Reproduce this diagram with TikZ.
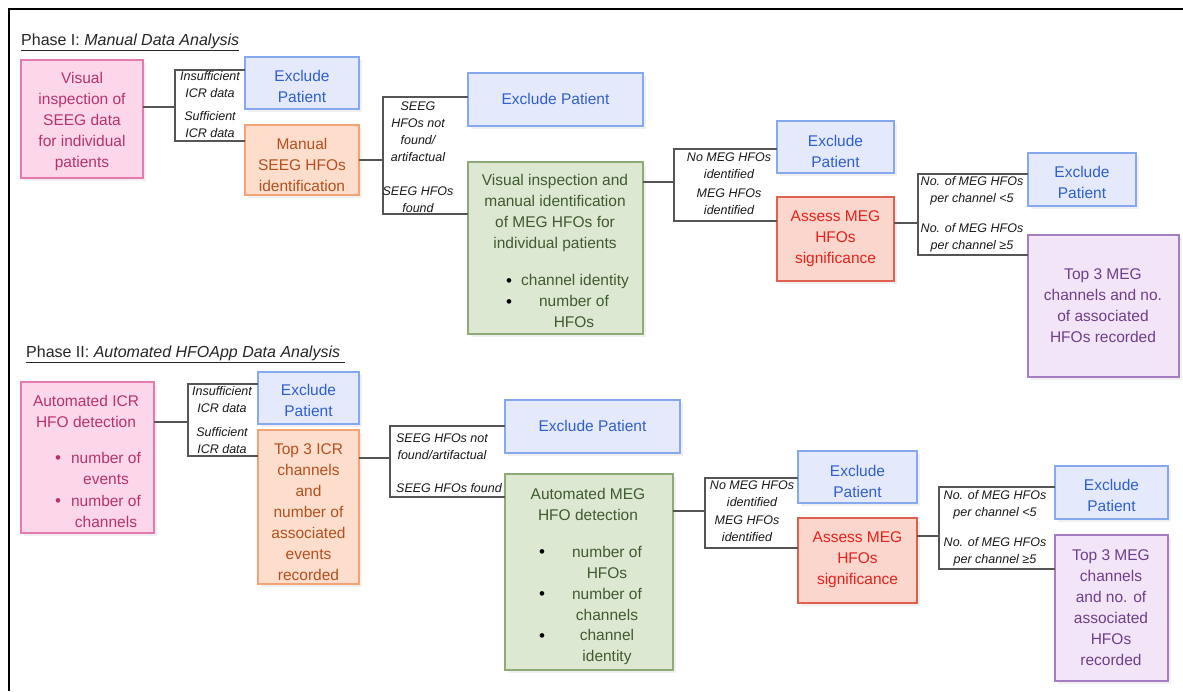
\documentclass[tikz,border=0pt]{standalone}
\usepackage{fontspec}
\setmainfont{Liberation Sans}
\usetikzlibrary{fit,shadows}
\definecolor{pinkfill}{HTML}{FCD7EA}
\definecolor{pinkline}{HTML}{E47AAE}
\definecolor{pinktext}{HTML}{B8336A}
\definecolor{bluefill}{HTML}{E4EAFC}
\definecolor{blueline}{HTML}{86A8F0}
\definecolor{bluetext}{HTML}{2F5FCF}
\definecolor{orangefill}{HTML}{FDDDCC}
\definecolor{orangeline}{HTML}{F5A277}
\definecolor{orangetext}{HTML}{B4501F}
\definecolor{greenfill}{HTML}{DDE8D3}
\definecolor{greenline}{HTML}{8DAA78}
\definecolor{greentext}{HTML}{3F5B2F}
\definecolor{redfill}{HTML}{FBD6CD}
\definecolor{redline}{HTML}{E0604E}
\definecolor{redtext}{HTML}{E5231B}
\definecolor{purplefill}{HTML}{F2E5F7}
\definecolor{purpleline}{HTML}{A57DC3}
\definecolor{purpletext}{HTML}{6E3F8C}
\definecolor{connc}{HTML}{555555}
\tikzset{
  box/.style={draw, line width=1.3pt, inner sep=0pt, outer sep=0pt,
    general shadow={fill=black!6, shadow xshift=3pt, shadow yshift=-3pt}},
  pinkbox/.style={box, draw=pinkline, fill=pinkfill},
  bluebox/.style={box, draw=blueline, fill=bluefill},
  orangebox/.style={box, draw=orangeline, fill=orangefill},
  greenbox/.style={box, draw=greenline, fill=greenfill},
  redbox/.style={box, draw=redline, fill=redfill},
  purplebox/.style={box, draw=purpleline, fill=purplefill},
  txt/.style={align=center, font=\fontsize{15.5}{21}\selectfont, inner sep=0pt},
  pinktxt/.style={txt, text=pinktext},
  bluetxt/.style={txt, text=bluetext},
  orangetxt/.style={txt, text=orangetext},
  greentxt/.style={txt, text=greentext},
  redtxt/.style={txt, text=redtext},
  purpletxt/.style={txt, text=purpletext},
  blt/.style={anchor=base, inner sep=0pt, font=\fontsize{17}{21}\selectfont, text=black},
  lbl/.style={align=center, font=\fontsize{12.5}{17}\selectfont\itshape, inner sep=0pt, text=black!90},
  conn/.style={draw=connc, line width=1.3pt},
  ttl/.style={anchor=base west, font=\fontsize{16}{18}\selectfont, inner sep=0pt, text=black!85}
}
\begin{document}
\begin{tikzpicture}[x=1pt,y=-1pt]
\useasboundingbox (0,0) rectangle (1183,691);
\fill[white] (0,0) rectangle (1183,691);
\draw[line width=2pt] (8.5,691) -- (8.5,8.5) -- (1183,8.5);

% ---------- Phase I ----------
\node[ttl] (t1) at (21,45.5) {\underline{Phase I: \textit{Manual Data Analysis}}};

\node[pinkbox, fit={(21,60)(143,178)}] (a1) {};
\node[pinktxt] (a1t) at (82,121.5) {Visual\\inspection of\\SEEG data\\for individual\\patients};

\node[bluebox, fit={(245,57)(359,109)}] (b1) {};
\node[bluetxt] (b1t) at (302,86) {Exclude\\Patient};

\node[orangebox, fit={(245,125)(359,195)}] (c1) {};
\node[orangetxt] (c1t) at (302,164.5) {Manual\\SEEG HFOs\\identification};

\node[bluebox, fit={(468,73)(643,126)}] (d1) {};
\node[bluetxt] (d1t) at (555.5,99) {Exclude Patient};

\node[greenbox, fit={(468,162)(643,334)}] (e1) {};
\node[greentxt] (e1t) at (555,212.5) {Visual inspection and\\manual identification\\of MEG HFOs for\\individual patients};
\node[blt] (e1b1) at (509,286.5) {\textbullet};
\node[greentxt] (e1i1) at (575,281) {channel identity};
\node[blt] (e1b2) at (509,307.5) {\textbullet};
\node[greentxt] (e1i2) at (574,311.5) {number of\\HFOs};

\node[bluebox, fit={(777,121)(894,173)}] (f1) {};
\node[bluetxt] (f1t) at (835.5,151) {Exclude\\Patient};

\node[redbox, fit={(777,197)(894,281)}] (g1) {};
\node[redtxt] (g1t) at (835.5,239) {Assess MEG\\HFOs\\significance};

\node[bluebox, fit={(1028,153)(1136,206)}] (h1) {};
\node[bluetxt] (h1t) at (1082,182) {Exclude\\Patient};

\node[purplebox, fit={(1028,235)(1179,377)}] (i1) {};
\node[purpletxt] (i1t) at (1103,306) {Top 3 MEG\\channels and no.\\of associated\\HFOs recorded};

% connectors phase I
\draw[conn] (a1.east |- 0,107) -- (175,107);
\draw[conn] (b1.west |- 0,70) -- (175,70) -- (175,141) -- (c1.west |- 0,141);
\node[lbl] (l1a) at (210,84.5) {Insufficient\\ICR data};
\node[lbl] (l1b) at (210,125) {Sufficient\\ICR data};

\draw[conn] (c1.east |- 0,160) -- (383,160);
\draw[conn] (d1.west |- 0,97) -- (383,97) -- (383,214) -- (e1.west |- 0,214);
\node[lbl] (l2a) at (418,132) {SEEG\\HFOs not\\found/\\artifactual};
\node[lbl] (l2b) at (418,200) {SEEG HFOs\\found};

\draw[conn] (e1.east |- 0,182) -- (674,182);
\draw[conn] (f1.west |- 0,149) -- (674,149) -- (674,221) -- (g1.west |- 0,221);
\node[lbl] (l3a) at (729,165.5) {No MEG HFOs\\identified};
\node[lbl] (l3b) at (729,201.5) {MEG HFOs\\identified};

\draw[conn] (g1.east |- 0,223) -- (918,223);
\draw[conn] (h1.west |- 0,174) -- (918,174) -- (918,255) -- (i1.west |- 0,255);
\node[lbl] (l4a) at (972,190.5) {No. of MEG HFOs\\per channel <5};
\node[lbl] (l4b) at (972,238) {No. of MEG HFOs\\per channel ≥5};

% ---------- Phase II ----------
\node[ttl] (t2) at (26,357.5) {\underline{Phase II: \textit{Automated HFOApp Data Analysis}\ }};

\node[pinkbox, fit={(21,382)(154,533)}] (a2) {};
\node[pinktxt] (a2t) at (86,411) {Automated ICR\\HFO detection};
\node[blt, text=pinktext] (a2b1) at (58,463.5) {\textbullet};
\node[pinktxt] (a2i1) at (106,468.5) {number of\\events};
\node[blt, text=pinktext] (a2b2) at (58,506.5) {\textbullet};
\node[pinktxt] (a2i2) at (106,511.5) {number of\\channels};

\node[bluebox, fit={(258,372)(359,424)}] (b2) {};
\node[bluetxt] (b2t) at (308.5,400.5) {Exclude\\Patient};

\node[orangebox, fit={(258,430)(359,584)}] (c2) {};
\node[orangetxt] (c2t) at (308.5,512.5) {Top 3 ICR\\channels\\and\\number of\\associated\\events\\recorded};

\node[bluebox, fit={(505,400)(680,453)}] (d2) {};
\node[bluetxt] (d2t) at (592.5,425.5) {Exclude Patient};

\node[greenbox, fit={(505,474)(673,670)}] (e2) {};
\node[greentxt] (e2t) at (588,504) {Automated MEG\\HFO detection};
\node[blt] (e2b1) at (542,557.5) {\textbullet};
\node[greentxt] (e2i1) at (607,562.5) {number of\\HFOs};
\node[blt] (e2b2) at (542,599.5) {\textbullet};
\node[greentxt] (e2i2) at (607,604) {number of\\channels};
\node[blt] (e2b3) at (542,641.5) {\textbullet};
\node[greentxt] (e2i3) at (607,646.5) {channel\\identity};

\node[bluebox, fit={(798,451)(917,503)}] (f2) {};
\node[bluetxt] (f2t) at (857.5,481) {Exclude\\Patient};

\node[redbox, fit={(798,518)(917,603)}] (g2) {};
\node[redtxt] (g2t) at (857.5,560) {Assess MEG\\HFOs\\significance};

\node[bluebox, fit={(1055,466)(1168,519)}] (h2) {};
\node[bluetxt] (h2t) at (1111.5,495.5) {Exclude\\Patient};

\node[purplebox, fit={(1055,535)(1168,681)}] (i2) {};
\node[purpletxt] (i2t) at (1111,607.5) {Top 3 MEG\\channels\\and no. of\\associated\\HFOs\\recorded};

% connectors phase II
\draw[conn] (a2.east |- 0,422) -- (188,422);
\draw[conn] (b2.west |- 0,384) -- (188,384) -- (188,456) -- (c2.west |- 0,456);
\node[lbl] (l5a) at (222,399.5) {Insufficient\\ICR data};
\node[lbl] (l5b) at (222,440.5) {Sufficient\\ICR data};

\draw[conn] (c2.east |- 0,458) -- (390,458);
\draw[conn] (d2.west |- 0,426) -- (390,426) -- (390,497) -- (e2.west |- 0,497);
\node[lbl] (l6a) at (442,447) {SEEG HFOs not\\found/artifactual};
\node[lbl] (l6b) at (449,488) {SEEG HFOs found};

\draw[conn] (e2.east |- 0,511) -- (705,511);
\draw[conn] (f2.west |- 0,478) -- (705,478) -- (705,548) -- (g2.west |- 0,548);
\node[lbl] (l7a) at (752,493.5) {No MEG HFOs\\identified};
\node[lbl] (l7b) at (747,529) {MEG HFOs\\identified};

\draw[conn] (g2.east |- 0,536) -- (939,536);
\draw[conn] (h2.west |- 0,487) -- (939,487) -- (939,569) -- (i2.west |- 0,569);
\node[lbl] (l8a) at (995,505) {No. of MEG HFOs\\per channel <5};
\node[lbl] (l8b) at (995,552) {No. of MEG HFOs\\per channel ≥5};
\end{tikzpicture}
\end{document}
